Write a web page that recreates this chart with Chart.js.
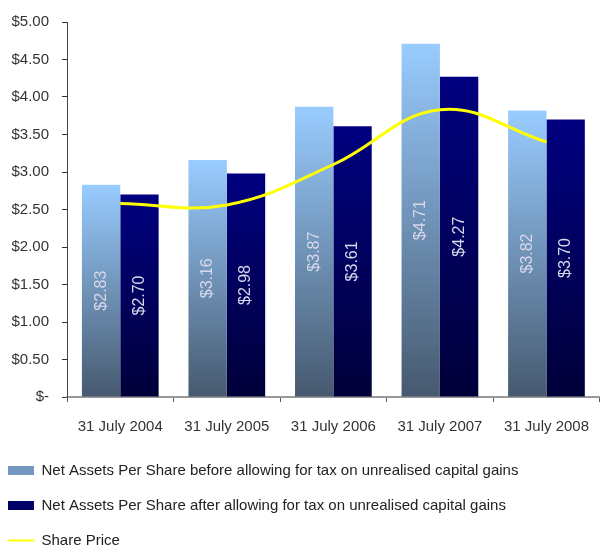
<!DOCTYPE html>
<html>
<head>
<meta charset="utf-8">
<script src="https://cdn.jsdelivr.net/npm/chart.js@4.4.0/dist/chart.umd.min.js"></script>
<style>
  html, body { margin: 0; padding: 0; background: #fff; }
  #wrap { position: relative; width: 600px; height: 547px; }
</style>
</head>
<body>
<div id="wrap"><canvas id="chartCanvas"></canvas></div>
<script>
var years = ['31 July 2004', '31 July 2005', '31 July 2006', '31 July 2007', '31 July 2008'];
var navBefore = [2.83, 3.16, 3.87, 4.71, 3.82];
var navAfter = [2.70, 2.98, 3.61, 4.27, 3.70];
var sharePrice = [2.58, 2.56, 3.10, 3.83, 3.40];
var seriesNames = [
	'Net Assets Per Share before allowing for tax on unrealised capital gains',
	'Net Assets Per Share after allowing for tax on unrealised capital gains',
	'Share Price'
];

// vertical gradient running from the top of each bar down to zero
function barGradient(top, bottom){
	return function(context){
		var chart = context.chart;
		if (!chart.chartArea || context.type !== 'data') return bottom;
		var y = chart.scales.y;
		var g = chart.ctx.createLinearGradient(0, y.getPixelForValue(context.raw), 0, y.getPixelForValue(0));
		g.addColorStop(0, top);
		g.addColorStop(1, bottom);
		return g;
	};
}

var legendFill = ['#7397c0', '#000066', '#ffff00'];

var barLabels = {
	id: 'barLabels',
	afterDatasetsDraw: function(chart){
		var ctx = chart.ctx;
		ctx.save();
		ctx.font = '16px "Liberation Sans", Arial, sans-serif';
		ctx.fillStyle = '#d8d8ec';
		ctx.textAlign = 'center';
		ctx.textBaseline = 'middle';
		[0, 1].forEach(function(di){
			var meta = chart.getDatasetMeta(di);
			meta.data.forEach(function(bar, i){
				var v = chart.data.datasets[di].data[i];
				ctx.save();
				ctx.translate(bar.x, (bar.y + bar.base) / 2);
				ctx.rotate(-Math.PI / 2);
				ctx.fillText('$' + v.toFixed(2), 0, 0);
				ctx.restore();
			});
		});
		ctx.restore();
	}
};

var ctx = document.getElementById('chartCanvas');

var chart = new Chart(ctx, {
	type: 'bar',
	data: {
		labels: years,
		datasets: [
			{
				label: seriesNames[0],
				data: navBefore,
				backgroundColor: barGradient('#99ccff', '#46596f'),
				categoryPercentage: 0.72,
				barPercentage: 1.0,
				order: 1
			},
			{
				label: seriesNames[1],
				data: navAfter,
				backgroundColor: barGradient('#000080', '#00003a'),
				categoryPercentage: 0.72,
				barPercentage: 1.0,
				order: 1
			},
			{
				type: 'line',
				label: seriesNames[2],
				data: sharePrice,
				borderColor: '#ffff00',
				backgroundColor: '#ffff00',
				borderWidth: 3,
				pointRadius: 0,
				tension: 0.4,
				order: 0
			}
		]
	},
	options: {
		responsive: true,
		maintainAspectRatio: false,
		animation: false,
		layout: { padding: { left: -12, right: 0, top: 12, bottom: -11 } },
		plugins: {
			tooltip: { enabled: false },
			legend: {
				position: 'bottom',
				align: 'start',
				labels: {
					color: '#222',
					font: { family: '"Liberation Sans", Arial, sans-serif', size: 15 },
					padding: 20,
					boxWidth: 26,
					boxHeight: 9,
					usePointStyle: true,
					pointStyleWidth: 26,
					sort: function(a, b){ return a.datasetIndex - b.datasetIndex; },
					generateLabels: function(chart){
						var items = Chart.defaults.plugins.legend.labels.generateLabels(chart);
						items.forEach(function(it){
							var i = it.datasetIndex;
							it.pointStyle = i === 2 ? 'line' : 'rect';
							it.fillStyle = legendFill[i];
							it.strokeStyle = legendFill[i];
							it.lineWidth = i === 2 ? 2 : 0;
						});
						return items;
					}
				}
			}
		},
		scales: {
			x: {
				grid: { display: true, drawOnChartArea: false, drawTicks: true, tickLength: 5, color: '#555' },
				border: { display: true, color: '#999', width: 2 },
				ticks: { color: '#333', font: { family: '"Liberation Sans", Arial, sans-serif', size: 15, lineHeight: 1.9 }, padding: 11, maxRotation: 0 },
				afterFit: function(scale){ scale.height = 46; }
			},
			y: {
				min: 0,
				max: 5,
				grid: { display: true, drawOnChartArea: false, drawTicks: true, tickLength: 5, color: '#333' },
				border: { display: true, color: '#444', width: 1 },
				ticks: {
					stepSize: 0.5,
					color: '#333',
					padding: 13,
					font: { family: '"Liberation Sans", Arial, sans-serif', size: 15 },
					callback: function(v){ return v === 0 ? '$-' : '$' + v.toFixed(2); }
				},
				afterFit: function(scale){ scale.width = 79; }
			}
		}
	},
	plugins: [barLabels]
});
</script>
</body>
</html>
